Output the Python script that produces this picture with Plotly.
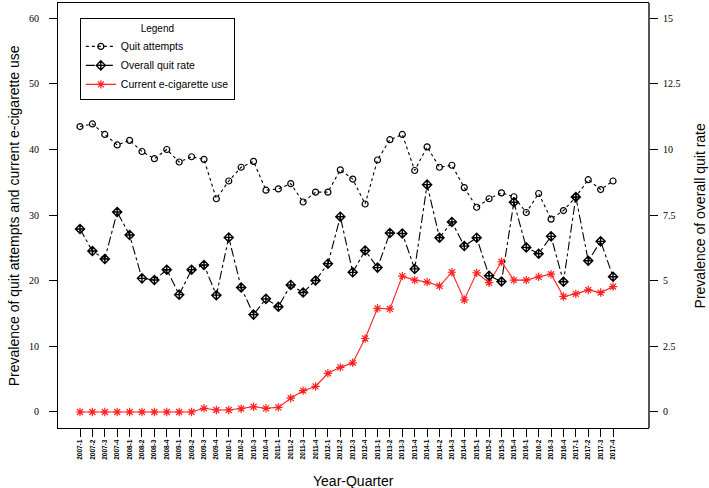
import plotly.graph_objects as go

quarters = [f"{y}-{q}" for y in range(2007, 2018) for q in range(1, 5)]

quit_attempts = [43.5, 43.9, 42.3, 40.7, 41.4, 39.7, 38.6, 40.0, 38.1, 38.9, 38.5, 32.5,
                 35.2, 37.3, 38.2, 33.8, 34.0, 34.8, 32.0, 33.5, 33.5, 36.9, 35.5, 31.7,
                 38.4, 41.5, 42.3, 36.8, 40.4, 37.3, 37.6, 34.2, 31.2, 32.5, 33.4, 32.8,
                 30.4, 33.3, 29.4, 30.7, 32.8, 35.4, 33.9, 35.2]

overall_quit_rate = [6.97, 6.13, 5.83, 7.62, 6.74, 5.09, 5.03, 5.42, 4.47, 5.42, 5.60, 4.45,
                     6.65, 4.74, 3.71, 4.31, 4.01, 4.84, 4.55, 5.01, 5.65, 7.44, 5.32, 6.15,
                     5.50, 6.82, 6.80, 5.45, 8.66, 6.64, 7.24, 6.32, 6.64, 5.19, 4.97, 7.99,
                     6.27, 6.03, 6.69, 4.96, 8.19, 5.76, 6.50, 5.15]

ecig_use = [0.0, 0.0, 0.0, 0.0, 0.0, 0.0, 0.0, 0.0, 0.0, 0.0, 0.56, 0.3,
            0.3, 0.5, 0.8, 0.56, 0.7, 2.1, 3.25, 3.9, 5.9, 6.8, 7.5, 11.2,
            15.8, 15.7, 20.7, 20.1, 19.8, 19.2, 21.3, 17.1, 21.2, 19.7, 22.9, 20.1,
            20.1, 20.6, 21.0, 17.6, 18.0, 18.6, 18.2, 19.1]

left_ticks = [0, 10, 20, 30, 40, 50, 60]
right_ticks = [0, 2.5, 5, 7.5, 10, 12.5, 15]
right_labels = ["0", "2.5", "5", "7.5", "10", "12.5", "15"]

fig = go.Figure()
fig.add_trace(go.Scatter(
    x=quarters, y=quit_attempts, name="Quit attempts", mode="lines+markers",
    line=dict(color="black", width=1.1, dash="dot"),
    marker=dict(symbol="circle-open", size=6, color="black", line=dict(width=1.2)),
    yaxis="y"))
fig.add_trace(go.Scatter(
    x=quarters, y=overall_quit_rate, name="Overall quit rate", mode="lines+markers",
    line=dict(color="black", width=1.1, dash="dashdot"),
    marker=dict(symbol="diamond-cross-open", size=7, color="black", line=dict(width=1.4)),
    yaxis="y2"))
fig.add_trace(go.Scatter(
    x=quarters, y=ecig_use, name="Current e-cigarette use", mode="lines+markers",
    line=dict(color="#ff2020", width=1.1),
    marker=dict(symbol="asterisk-open", size=7, color="#ff2020", line=dict(width=1.2, color="#ff2020")),
    yaxis="y"))

serif = "Liberation Serif"
sans = "Liberation Sans"

fig.update_layout(
    width=709, height=488,
    margin=dict(l=58, r=61, t=3, b=60, autoexpand=False),
    plot_bgcolor="white", paper_bgcolor="white",
    showlegend=True,
    legend=dict(
        x=0.037, y=0.965, xanchor="left", yanchor="top",
        bordercolor="black", borderwidth=1, bgcolor="white",
        font=dict(family=sans, size=10.5, color="black"),
        title=dict(text="Legend", side="top center", font=dict(family=sans, size=10, color="black")),
        tracegroupgap=0,
    ),
    xaxis=dict(
        type="category", range=[-1.775, 45.82], automargin=False,
        tickangle=-90, ticks="outside", ticklen=8, tickcolor="black",
        tickfont=dict(family=sans, size=6.5, color="black", weight="bold"),
        showgrid=False, zeroline=False,
        showline=True, linecolor="black", linewidth=1, mirror=True,
    ),
    yaxis=dict(
        range=[-2.44, 62.33], tickvals=left_ticks, ticks="outside", ticklen=8, tickcolor="black",
        automargin=False, ticklabelstandoff=8,
        tickfont=dict(family=serif, size=10, color="black"),
        showgrid=False, zeroline=False,
        showline=True, linecolor="black", linewidth=1, mirror=True,
    ),
    yaxis2=dict(
        overlaying="y", side="right", automargin=False,
        range=[-0.61, 15.58], tickvals=right_ticks, ticktext=right_labels,
        ticks="outside", ticklen=8, tickcolor="black", ticklabelstandoff=3,
        tickfont=dict(family=serif, size=10, color="black"),
        showgrid=False, zeroline=False,
        showline=True, linecolor="#555555", linewidth=2,
    ),
    annotations=[
        dict(text="Year-Quarter", xref="paper", yref="paper", x=0.5, y=-0.125,
             xanchor="center", yanchor="middle", showarrow=False,
             font=dict(family=sans, size=14, color="black")),
        dict(text="Prevalence of quit attempts and current e-cigarette use",
             xref="paper", yref="paper", x=-0.075, y=0.5, textangle=-90,
             xanchor="center", yanchor="middle", showarrow=False,
             font=dict(family=sans, size=14, color="black")),
        dict(text="Prevalence of overall quit rate",
             xref="paper", yref="paper", x=1.088, y=0.5, textangle=-90,
             xanchor="center", yanchor="middle", showarrow=False,
             font=dict(family=sans, size=14, color="black")),
    ],
)

fig.write_html("out.html", config={"displayModeBar": False},
               post_script="document.body.style.margin='0';document.body.style.overflow='hidden';")
